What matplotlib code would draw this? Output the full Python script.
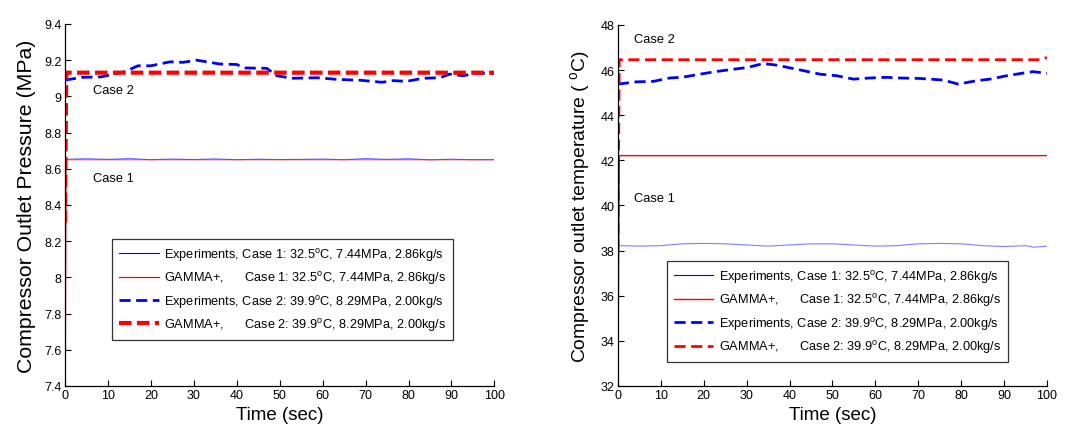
import matplotlib
matplotlib.use("Agg")
import matplotlib.pyplot as plt
from matplotlib.ticker import FuncFormatter

plt.rcParams['font.family'] = ['Liberation Sans', 'DejaVu Sans']
plt.rcParams['mathtext.fontset'] = 'custom'
plt.rcParams['mathtext.rm'] = 'Liberation Sans'
plt.rcParams['mathtext.it'] = 'Liberation Sans'

# ---------------- Left panel: pressure ----------------
p_exp1_t = [0, 5, 10, 15, 20, 25, 30, 35, 40, 45, 50, 55, 60, 65, 70, 75, 80, 85, 90, 95, 100]
p_exp1_v = [8.652, 8.656, 8.652, 8.657, 8.650, 8.654, 8.651, 8.655, 8.650, 8.653, 8.651, 8.652, 8.654, 8.650, 8.657, 8.652, 8.656, 8.649, 8.653, 8.650, 8.650]
p_gam1_t = [0, 0.3, 100]
p_gam1_v = [7.0, 8.65, 8.65]
p_exp2_t = [0, 3.9, 8.5, 14, 17, 20, 24.5, 27.5, 30.7, 36, 40, 42, 47, 49.3, 53, 58.8, 63.3, 68.8, 73.8, 76.5, 79.5, 83.4, 87.3, 89.6, 92.7, 95.8, 100]
p_exp2_v = [9.09, 9.105, 9.108, 9.137, 9.169, 9.169, 9.191, 9.188, 9.20, 9.179, 9.176, 9.157, 9.155, 9.114, 9.10, 9.103, 9.094, 9.089, 9.078, 9.087, 9.083, 9.10, 9.103, 9.123, 9.114, 9.128, 9.128]
p_gam2_t = [0, 0.3, 100]
p_gam2_v = [8.3, 9.131, 9.131]

# ---------------- Right panel: temperature ----------------
t_exp1_t = [0, 5, 10, 15, 20, 25, 30, 35, 40, 45, 50, 55, 60, 65, 70, 75, 80, 85, 90, 95, 97, 100]
t_exp1_v = [38.22, 38.20, 38.22, 38.30, 38.32, 38.30, 38.25, 38.20, 38.25, 38.30, 38.30, 38.25, 38.20, 38.22, 38.30, 38.32, 38.30, 38.22, 38.18, 38.22, 38.15, 38.20]
t_gam1_t = [0, 0.3, 100]
t_gam1_v = [32.5, 42.21, 42.21]
t_exp2_t = [0, 4.3, 8.2, 12.1, 15.2, 19.1, 23, 26.9, 30, 33.9, 37, 42.4, 47.1, 51, 54.9, 58.7, 62.6, 65.7, 70.4, 75.8, 79.3, 83.6, 86.7, 90.6, 94.5, 96.8, 100]
t_exp2_v = [45.38, 45.48, 45.50, 45.65, 45.69, 45.82, 45.94, 46.04, 46.11, 46.29, 46.22, 46.01, 45.82, 45.75, 45.60, 45.65, 45.68, 45.65, 45.63, 45.56, 45.38, 45.53, 45.60, 45.75, 45.87, 45.93, 45.86]
t_gam2_t = [0, 0.3, 98.5, 100]
t_gam2_v = [38.0, 46.46, 46.46, 46.56]

labels = [
    r'Experiments, Case 1: 32.5$^{\rm o}$C, 7.44MPa, 2.86kg/s',
    r'GAMMA+,      Case 1: 32.5$^{\rm o}$C, 7.44MPa, 2.86kg/s',
    r'Experiments, Case 2: 39.9$^{\rm o}$C, 8.29MPa, 2.00kg/s',
    r'GAMMA+,      Case 2: 39.9$^{\rm o}$C, 8.29MPa, 2.00kg/s',
]

fig = plt.figure(figsize=(10.79, 4.39), dpi=100)
ax1 = fig.add_axes([0.0602, 0.1185, 0.398, 0.8246])
ax2 = fig.add_axes([0.5727, 0.1185, 0.3976, 0.8223])

def style(ax):
    for s in ['top', 'right']:
        ax.spines[s].set_visible(False)
    for s in ['left', 'bottom']:
        ax.spines[s].set_linewidth(0.9)
    ax.tick_params(direction='in', length=4, width=0.8, labelsize=9, colors='black', pad=2.5)
    ax.set_xlim(0, 100)
    ax.set_xticks(range(0, 101, 10))
    ax.set_xlabel('Time (sec)', fontsize=13.5, labelpad=3)

leg_kw = dict(fontsize=9.2, frameon=True, fancybox=False, edgecolor='black',
              handlelength=3.1, labelspacing=0.5, borderpad=0.55, handletextpad=0.4,
              borderaxespad=0)

# left
l1, = ax1.plot(p_exp1_t, p_exp1_v, color='blue', lw=0.8, alpha=0.55)
l2, = ax1.plot(p_gam1_t, p_gam1_v, color='red', lw=0.9, alpha=0.6)
l3, = ax1.plot(p_exp2_t, p_exp2_v, color='blue', lw=2.0, ls=(0, (4, 2)))
l4, = ax1.plot(p_gam2_t, p_gam2_v, color='red', lw=3.0, ls=(0, (3, 1.3)))
style(ax1)
ax1.set_ylim(7.4, 9.4)
ax1.set_yticks([7.4 + 0.2 * i for i in range(11)])
ax1.yaxis.set_major_formatter(FuncFormatter(lambda v, p: '%g' % round(v, 2)))
ax1.set_ylabel('Compressor Outlet Pressure (MPa)', fontsize=15.3, labelpad=6)
ax1.text(6.5, 9.035, 'Case 2', fontsize=9.3, va='center', ha='left')
ax1.text(6.5, 8.55, 'Case 1', fontsize=9.3, va='center', ha='left')
leg1 = ax1.legend([l1, l2, l3, l4], labels, loc='lower left',
                  bbox_to_anchor=(0.1096, 0.127), **leg_kw)
leg1.get_frame().set_linewidth(0.9)
for h in leg1.get_lines():
    h.set_alpha(1)

# right
r1, = ax2.plot(t_exp1_t, t_exp1_v, color='blue', lw=0.8, alpha=0.5)
r2, = ax2.plot(t_gam1_t, t_gam1_v, color='#ff0000', lw=1.0)
r3, = ax2.plot(t_exp2_t, t_exp2_v, color='blue', lw=2.0, ls=(0, (4, 2)))
r4, = ax2.plot(t_gam2_t, t_gam2_v, color='red', lw=2.0, ls=(0, (4, 2)))
style(ax2)
ax2.set_ylim(32, 48)
ax2.set_yticks(range(32, 49, 2))
ax2.set_ylabel(r'Compressor outlet temperature ( $^{\rm o}$C)', fontsize=13.9, labelpad=6)
ax2.text(3.7, 47.38, 'Case 2', fontsize=9.3, va='center', ha='left')
ax2.text(3.7, 40.33, 'Case 1', fontsize=9.3, va='center', ha='left')
leg2 = ax2.legend([r1, r2, r3, r4], labels, loc='lower left',
                  bbox_to_anchor=(0.114, 0.066), **leg_kw)
leg2.get_frame().set_linewidth(0.9)
for h in leg2.get_lines():
    h.set_alpha(1)

fig.savefig('out.png', dpi=100)
